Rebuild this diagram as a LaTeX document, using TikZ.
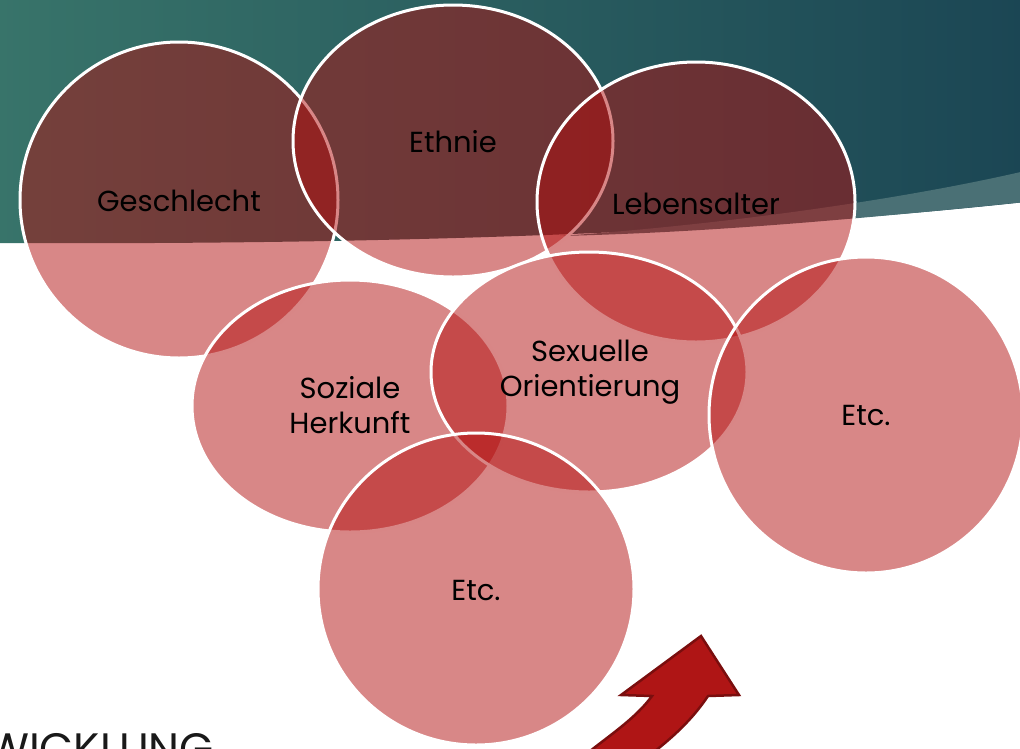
\documentclass[tikz,border=0pt]{standalone}
\usepackage{fontspec}
\setmainfont{Poppins}
\definecolor{tealL}{RGB}{56,116,106}
\definecolor{tealR}{RGB}{27,70,84}
\definecolor{bandc}{RGB}{74,112,117}
\definecolor{bubble}{RGB}{178,15,15}
\definecolor{arrowf}{RGB}{175,21,21}
\definecolor{arrowd}{RGB}{122,14,14}
\tikzset{
  bub/.style={fill=bubble, fill opacity=0.5, draw=white, line width=3pt, draw opacity=1},
  lab/.style={text=black, font=\fontsize{29}{35}\selectfont, align=center, text opacity=1, inner sep=0pt},
}
\begin{document}
\begin{tikzpicture}[x=1pt,y=-1pt]
\useasboundingbox (0,0) rectangle (1020,748);
\clip (0,0) rectangle (1020,748);
% background band
\shade[left color=tealL, right color=tealR]
  (-5,-5) -- (1025,-5) -- (1025,202) .. controls (750,232) and (400,245) .. (-5,243) -- cycle;
\fill[bandc] (560,236) .. controls (720,225) and (900,200) .. (1025,171) -- (1025,202) .. controls (800,225) and (680,233) .. (560,236) -- cycle;
% bubbles
\draw[bub] (179,200) ellipse[x radius=159, y radius=158];
\draw[bub] (453,141) ellipse[x radius=160, y radius=136];
\draw[bub] (696,202) ellipse[x radius=159, y radius=140];
\draw[bub] (350,406) ellipse[x radius=158, y radius=126];
\draw[bub] (589,372) ellipse[x radius=158, y radius=120];
\draw[bub] (866,415) ellipse[x radius=157, y radius=158];
\draw[bub] (476,589) ellipse[x radius=158, y radius=156];
% labels
\node[lab] (g) at (179,201) {Geschlecht};
\node[lab] (e) at (453,142) {Ethnie};
\node[lab] (l) at (696,204) {Lebensalter};
\node[lab] (s) at (350,405) {Soziale\\Herkunft};
\node[lab] (o) at (590,372) {Sexuelle\\Orientierung};
\node[lab] (r) at (866,415) {Etc.};
\node[lab] (b) at (476,590) {Etc.};
% arrow
\draw[fill=arrowf, draw=arrowd, line width=2.5pt, line join=miter]
  (701,636) -- (739,695) -- (708,696) .. controls (692,720) and (672,738) .. (650,755)
  -- (585,755) .. controls (610,735) and (636,718) .. (652,696) -- (621,695) -- cycle;
% bottom text
\node[anchor=north west, inner sep=0pt, text=black!90, font=\fontsize{44}{52}\selectfont] (t) at (-14,733) {WICKLUNG};
\end{tikzpicture}
\end{document}
